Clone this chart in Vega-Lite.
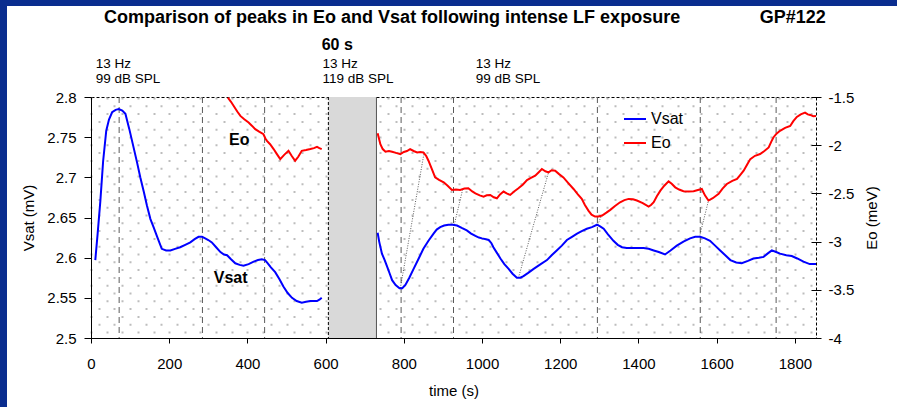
{
  "$schema": "https://vega.github.io/schema/vega-lite/v6.json",
  "width": 725,
  "height": 241,
  "autosize": "none",
  "padding": {"left": 91, "right": 81, "top": 97, "bottom": 69},
  "background": "white",
  "config": {
    "font": "Liberation Sans",
    "view": {"stroke": "#000", "strokeDash": [3, 2], "strokeWidth": 1, "fill": "white"},
    "axis": {
      "labelFont": "Liberation Sans", "labelFontSize": 15, "labelColor": "#000",
      "titleFont": "Liberation Sans", "titleFontSize": 15, "titleFontWeight": "normal", "titleColor": "#000",
      "tickColor": "#000", "domainColor": "#000", "grid": false
    },
    "legend": {
      "orient": "none", "legendX": 532, "legendY": 10, "padding": 0,
      "labelFont": "Liberation Sans", "labelFontSize": 16, "labelColor": "#000",
      "symbolType": "stroke", "symbolSize": 484, "symbolStrokeWidth": 2,
      "labelOffset": 4, "rowPadding": 4
    }
  },
  "datasets": {
    "vsat": [
      {"t": 11, "v": 2.597, "s": 1}, {"t": 17, "v": 2.63, "s": 1}, {"t": 24, "v": 2.671, "s": 1}, {"t": 31, "v": 2.72, "s": 1},
      {"t": 39, "v": 2.758, "s": 1}, {"t": 46, "v": 2.772, "s": 1}, {"t": 54, "v": 2.781, "s": 1}, {"t": 63, "v": 2.784, "s": 1},
      {"t": 71, "v": 2.785, "s": 1}, {"t": 80, "v": 2.783, "s": 1}, {"t": 88, "v": 2.779, "s": 1}, {"t": 98, "v": 2.76, "s": 1},
      {"t": 109, "v": 2.737, "s": 1}, {"t": 118, "v": 2.718, "s": 1}, {"t": 126, "v": 2.7, "s": 1}, {"t": 135, "v": 2.682, "s": 1},
      {"t": 143, "v": 2.665, "s": 1}, {"t": 152, "v": 2.648, "s": 1}, {"t": 160, "v": 2.638, "s": 1}, {"t": 170, "v": 2.625, "s": 1},
      {"t": 181, "v": 2.611, "s": 1}, {"t": 192, "v": 2.609, "s": 1}, {"t": 203, "v": 2.609, "s": 1}, {"t": 215, "v": 2.611, "s": 1},
      {"t": 228, "v": 2.613, "s": 1}, {"t": 241, "v": 2.616, "s": 1}, {"t": 254, "v": 2.619, "s": 1}, {"t": 265, "v": 2.623, "s": 1},
      {"t": 275, "v": 2.626, "s": 1}, {"t": 284, "v": 2.626, "s": 1}, {"t": 292, "v": 2.624, "s": 1}, {"t": 300, "v": 2.622, "s": 1},
      {"t": 309, "v": 2.619, "s": 1}, {"t": 320, "v": 2.613, "s": 1}, {"t": 331, "v": 2.607, "s": 1}, {"t": 340, "v": 2.604, "s": 1},
      {"t": 348, "v": 2.603, "s": 1}, {"t": 358, "v": 2.598, "s": 1}, {"t": 369, "v": 2.593, "s": 1}, {"t": 380, "v": 2.591, "s": 1},
      {"t": 390, "v": 2.59, "s": 1}, {"t": 403, "v": 2.592, "s": 1}, {"t": 416, "v": 2.595, "s": 1}, {"t": 427, "v": 2.597, "s": 1},
      {"t": 437, "v": 2.598, "s": 1}, {"t": 445, "v": 2.597, "s": 1}, {"t": 450, "v": 2.594, "s": 1}, {"t": 460, "v": 2.588, "s": 1},
      {"t": 471, "v": 2.582, "s": 1}, {"t": 482, "v": 2.573, "s": 1}, {"t": 492, "v": 2.564, "s": 1}, {"t": 503, "v": 2.556, "s": 1},
      {"t": 514, "v": 2.55, "s": 1}, {"t": 526, "v": 2.546, "s": 1}, {"t": 539, "v": 2.544, "s": 1}, {"t": 550, "v": 2.545, "s": 1},
      {"t": 561, "v": 2.546, "s": 1}, {"t": 570, "v": 2.546, "s": 1}, {"t": 578, "v": 2.546, "s": 1}, {"t": 585, "v": 2.548, "s": 1},
      {"t": 590, "v": 2.55, "s": 1},
      {"t": 733, "v": 2.631, "s": 2}, {"t": 737, "v": 2.62, "s": 2}, {"t": 744, "v": 2.605, "s": 2}, {"t": 751, "v": 2.597, "s": 2},
      {"t": 758, "v": 2.588, "s": 2}, {"t": 764, "v": 2.58, "s": 2}, {"t": 770, "v": 2.572, "s": 2}, {"t": 779, "v": 2.566, "s": 2},
      {"t": 789, "v": 2.562, "s": 2}, {"t": 796, "v": 2.562, "s": 2}, {"t": 804, "v": 2.566, "s": 2}, {"t": 814, "v": 2.575, "s": 2},
      {"t": 825, "v": 2.586, "s": 2}, {"t": 838, "v": 2.599, "s": 2}, {"t": 850, "v": 2.611, "s": 2}, {"t": 863, "v": 2.621, "s": 2},
      {"t": 876, "v": 2.63, "s": 2}, {"t": 884, "v": 2.635, "s": 2}, {"t": 893, "v": 2.638, "s": 2}, {"t": 903, "v": 2.64, "s": 2},
      {"t": 914, "v": 2.641, "s": 2}, {"t": 925, "v": 2.641, "s": 2}, {"t": 936, "v": 2.64, "s": 2}, {"t": 948, "v": 2.637, "s": 2},
      {"t": 961, "v": 2.634, "s": 2}, {"t": 972, "v": 2.63, "s": 2}, {"t": 983, "v": 2.627, "s": 2}, {"t": 992, "v": 2.625, "s": 2},
      {"t": 1000, "v": 2.624, "s": 2}, {"t": 1010, "v": 2.623, "s": 2}, {"t": 1017, "v": 2.622, "s": 2}, {"t": 1024, "v": 2.618, "s": 2},
      {"t": 1029, "v": 2.613, "s": 2}, {"t": 1038, "v": 2.606, "s": 2}, {"t": 1047, "v": 2.599, "s": 2}, {"t": 1057, "v": 2.592, "s": 2},
      {"t": 1068, "v": 2.586, "s": 2}, {"t": 1078, "v": 2.58, "s": 2}, {"t": 1089, "v": 2.575, "s": 2}, {"t": 1098, "v": 2.575, "s": 2},
      {"t": 1106, "v": 2.577, "s": 2}, {"t": 1118, "v": 2.581, "s": 2}, {"t": 1132, "v": 2.586, "s": 2}, {"t": 1150, "v": 2.592, "s": 2},
      {"t": 1166, "v": 2.597, "s": 2}, {"t": 1178, "v": 2.603, "s": 2}, {"t": 1191, "v": 2.609, "s": 2}, {"t": 1204, "v": 2.615, "s": 2},
      {"t": 1217, "v": 2.622, "s": 2}, {"t": 1230, "v": 2.626, "s": 2}, {"t": 1243, "v": 2.63, "s": 2}, {"t": 1255, "v": 2.633, "s": 2},
      {"t": 1268, "v": 2.636, "s": 2}, {"t": 1281, "v": 2.638, "s": 2}, {"t": 1294, "v": 2.641, "s": 2}, {"t": 1302, "v": 2.639, "s": 2},
      {"t": 1311, "v": 2.636, "s": 2}, {"t": 1322, "v": 2.629, "s": 2}, {"t": 1336, "v": 2.621, "s": 2}, {"t": 1347, "v": 2.616, "s": 2},
      {"t": 1358, "v": 2.613, "s": 2}, {"t": 1370, "v": 2.612, "s": 2}, {"t": 1390, "v": 2.612, "s": 2}, {"t": 1413, "v": 2.612, "s": 2},
      {"t": 1426, "v": 2.611, "s": 2}, {"t": 1439, "v": 2.609, "s": 2}, {"t": 1452, "v": 2.607, "s": 2}, {"t": 1468, "v": 2.604, "s": 2},
      {"t": 1482, "v": 2.609, "s": 2}, {"t": 1498, "v": 2.615, "s": 2}, {"t": 1515, "v": 2.62, "s": 2}, {"t": 1532, "v": 2.624, "s": 2},
      {"t": 1545, "v": 2.626, "s": 2}, {"t": 1558, "v": 2.626, "s": 2}, {"t": 1570, "v": 2.624, "s": 2}, {"t": 1583, "v": 2.621, "s": 2},
      {"t": 1596, "v": 2.615, "s": 2}, {"t": 1609, "v": 2.609, "s": 2}, {"t": 1622, "v": 2.603, "s": 2}, {"t": 1635, "v": 2.597, "s": 2},
      {"t": 1650, "v": 2.594, "s": 2}, {"t": 1664, "v": 2.593, "s": 2}, {"t": 1680, "v": 2.596, "s": 2}, {"t": 1694, "v": 2.599, "s": 2},
      {"t": 1708, "v": 2.6, "s": 2}, {"t": 1720, "v": 2.601, "s": 2}, {"t": 1730, "v": 2.605, "s": 2}, {"t": 1741, "v": 2.609, "s": 2},
      {"t": 1752, "v": 2.607, "s": 2}, {"t": 1762, "v": 2.605, "s": 2}, {"t": 1778, "v": 2.603, "s": 2}, {"t": 1792, "v": 2.602, "s": 2},
      {"t": 1806, "v": 2.599, "s": 2}, {"t": 1822, "v": 2.595, "s": 2}, {"t": 1838, "v": 2.592, "s": 2}, {"t": 1854, "v": 2.592, "s": 2}
    ],
    "eo": [
      {"t": 350, "e": -1.507, "s": 1}, {"t": 358, "e": -1.55, "s": 1}, {"t": 365, "e": -1.593, "s": 1}, {"t": 374, "e": -1.65, "s": 1},
      {"t": 382, "e": -1.696, "s": 1}, {"t": 392, "e": -1.73, "s": 1}, {"t": 403, "e": -1.765, "s": 1}, {"t": 412, "e": -1.8, "s": 1},
      {"t": 420, "e": -1.834, "s": 1}, {"t": 430, "e": -1.86, "s": 1}, {"t": 441, "e": -1.886, "s": 1}, {"t": 446, "e": -1.93, "s": 1},
      {"t": 450, "e": -1.955, "s": 1}, {"t": 458, "e": -1.99, "s": 1}, {"t": 467, "e": -2.04, "s": 1}, {"t": 475, "e": -2.09, "s": 1},
      {"t": 484, "e": -2.144, "s": 1}, {"t": 494, "e": -2.1, "s": 1}, {"t": 505, "e": -2.058, "s": 1}, {"t": 513, "e": -2.11, "s": 1},
      {"t": 522, "e": -2.161, "s": 1}, {"t": 530, "e": -2.12, "s": 1}, {"t": 539, "e": -2.058, "s": 1}, {"t": 550, "e": -2.05, "s": 1},
      {"t": 561, "e": -2.04, "s": 1}, {"t": 570, "e": -2.03, "s": 1}, {"t": 578, "e": -2.017, "s": 1}, {"t": 584, "e": -2.03, "s": 1},
      {"t": 590, "e": -2.04, "s": 1},
      {"t": 733, "e": -1.875, "s": 2}, {"t": 737, "e": -1.94, "s": 2}, {"t": 740, "e": -1.989, "s": 2}, {"t": 746, "e": -2.04, "s": 2},
      {"t": 753, "e": -2.068, "s": 2}, {"t": 762, "e": -2.06, "s": 2}, {"t": 770, "e": -2.068, "s": 2}, {"t": 780, "e": -2.08, "s": 2},
      {"t": 791, "e": -2.092, "s": 2}, {"t": 800, "e": -2.07, "s": 2}, {"t": 808, "e": -2.06, "s": 2}, {"t": 816, "e": -2.04, "s": 2},
      {"t": 825, "e": -2.06, "s": 2}, {"t": 834, "e": -2.075, "s": 2}, {"t": 842, "e": -2.07, "s": 2}, {"t": 850, "e": -2.075, "s": 2},
      {"t": 857, "e": -2.11, "s": 2}, {"t": 863, "e": -2.161, "s": 2}, {"t": 872, "e": -2.25, "s": 2}, {"t": 880, "e": -2.334, "s": 2},
      {"t": 890, "e": -2.36, "s": 2}, {"t": 902, "e": -2.385, "s": 2}, {"t": 912, "e": -2.42, "s": 2}, {"t": 923, "e": -2.464, "s": 2},
      {"t": 933, "e": -2.46, "s": 2}, {"t": 944, "e": -2.464, "s": 2}, {"t": 955, "e": -2.45, "s": 2}, {"t": 965, "e": -2.447, "s": 2},
      {"t": 975, "e": -2.48, "s": 2}, {"t": 983, "e": -2.499, "s": 2}, {"t": 994, "e": -2.52, "s": 2}, {"t": 1004, "e": -2.533, "s": 2},
      {"t": 1012, "e": -2.52, "s": 2}, {"t": 1021, "e": -2.516, "s": 2}, {"t": 1030, "e": -2.54, "s": 2}, {"t": 1038, "e": -2.551, "s": 2},
      {"t": 1046, "e": -2.51, "s": 2}, {"t": 1055, "e": -2.481, "s": 2}, {"t": 1063, "e": -2.5, "s": 2}, {"t": 1072, "e": -2.516, "s": 2},
      {"t": 1082, "e": -2.48, "s": 2}, {"t": 1093, "e": -2.447, "s": 2}, {"t": 1104, "e": -2.41, "s": 2}, {"t": 1115, "e": -2.361, "s": 2},
      {"t": 1125, "e": -2.34, "s": 2}, {"t": 1136, "e": -2.316, "s": 2}, {"t": 1145, "e": -2.28, "s": 2}, {"t": 1153, "e": -2.247, "s": 2},
      {"t": 1162, "e": -2.27, "s": 2}, {"t": 1170, "e": -2.282, "s": 2}, {"t": 1178, "e": -2.26, "s": 2}, {"t": 1187, "e": -2.264, "s": 2},
      {"t": 1197, "e": -2.3, "s": 2}, {"t": 1208, "e": -2.334, "s": 2}, {"t": 1220, "e": -2.39, "s": 2}, {"t": 1234, "e": -2.454, "s": 2},
      {"t": 1245, "e": -2.51, "s": 2}, {"t": 1255, "e": -2.557, "s": 2}, {"t": 1263, "e": -2.62, "s": 2}, {"t": 1272, "e": -2.678, "s": 2},
      {"t": 1280, "e": -2.72, "s": 2}, {"t": 1289, "e": -2.74, "s": 2}, {"t": 1298, "e": -2.74, "s": 2}, {"t": 1307, "e": -2.73, "s": 2},
      {"t": 1318, "e": -2.7, "s": 2}, {"t": 1328, "e": -2.671, "s": 2}, {"t": 1340, "e": -2.63, "s": 2}, {"t": 1353, "e": -2.592, "s": 2},
      {"t": 1364, "e": -2.57, "s": 2}, {"t": 1375, "e": -2.557, "s": 2}, {"t": 1386, "e": -2.56, "s": 2}, {"t": 1396, "e": -2.574, "s": 2},
      {"t": 1411, "e": -2.6, "s": 2}, {"t": 1426, "e": -2.636, "s": 2}, {"t": 1432, "e": -2.62, "s": 2}, {"t": 1439, "e": -2.592, "s": 2},
      {"t": 1447, "e": -2.53, "s": 2}, {"t": 1456, "e": -2.471, "s": 2}, {"t": 1466, "e": -2.42, "s": 2}, {"t": 1477, "e": -2.375, "s": 2},
      {"t": 1485, "e": -2.4, "s": 2}, {"t": 1494, "e": -2.437, "s": 2}, {"t": 1504, "e": -2.46, "s": 2}, {"t": 1515, "e": -2.478, "s": 2},
      {"t": 1528, "e": -2.48, "s": 2}, {"t": 1541, "e": -2.478, "s": 2}, {"t": 1552, "e": -2.465, "s": 2}, {"t": 1562, "e": -2.454, "s": 2},
      {"t": 1570, "e": -2.52, "s": 2}, {"t": 1579, "e": -2.574, "s": 2}, {"t": 1590, "e": -2.55, "s": 2}, {"t": 1605, "e": -2.505, "s": 2},
      {"t": 1615, "e": -2.45, "s": 2}, {"t": 1626, "e": -2.402, "s": 2}, {"t": 1640, "e": -2.37, "s": 2}, {"t": 1652, "e": -2.35, "s": 2},
      {"t": 1660, "e": -2.31, "s": 2}, {"t": 1669, "e": -2.265, "s": 2}, {"t": 1678, "e": -2.2, "s": 2}, {"t": 1686, "e": -2.144, "s": 2},
      {"t": 1698, "e": -2.11, "s": 2}, {"t": 1711, "e": -2.092, "s": 2}, {"t": 1722, "e": -2.06, "s": 2}, {"t": 1733, "e": -2.023, "s": 2},
      {"t": 1740, "e": -1.96, "s": 2}, {"t": 1745, "e": -1.92, "s": 2}, {"t": 1753, "e": -1.88, "s": 2}, {"t": 1762, "e": -1.851, "s": 2},
      {"t": 1775, "e": -1.82, "s": 2}, {"t": 1788, "e": -1.8, "s": 2}, {"t": 1796, "e": -1.75, "s": 2}, {"t": 1805, "e": -1.707, "s": 2},
      {"t": 1815, "e": -1.68, "s": 2}, {"t": 1826, "e": -1.662, "s": 2}, {"t": 1833, "e": -1.68, "s": 2}, {"t": 1839, "e": -1.686, "s": 2},
      {"t": 1847, "e": -1.7, "s": 2}, {"t": 1854, "e": -1.696, "s": 2}
    ],
    "markers": [
      {"t": 72}, {"t": 285}, {"t": 444}, {"t": 793}, {"t": 927}, {"t": 1295}, {"t": 1558}, {"t": 1752}
    ],
    "exposure": [{"start": 607, "end": 730}],
    "links": [
      {"t1": 791, "v1": 2.562, "t2": 852, "v2": 2.731},
      {"t1": 929, "v1": 2.641, "t2": 950, "v2": 2.684},
      {"t1": 1093, "v1": 2.575, "t2": 1170, "v2": 2.706},
      {"t1": 1296, "v1": 2.641, "t2": 1306, "v2": 2.653},
      {"t1": 1556, "v1": 2.626, "t2": 1579, "v2": 2.671}
    ],
    "one": [{}]
  },
  "layer": [
    {
      "data": {"name": "exposure"},
      "mark": {"type": "rect", "fill": "#d9d9d9"},
      "encoding": {
        "x": {
          "field": "start", "type": "quantitative",
          "scale": {"domain": [0, 1854], "nice": false},
          "axis": {
            "orient": "top", "title": null, "labels": false, "ticks": false, "domain": false,
            "tickCount": 93, "grid": true, "gridColor": "#bdbdbd", "gridWidth": 2, "gridDash": [2, 13.6],
            "gridDashOffset": {"condition": {"test": "datum.value % 40 === 0", "value": 0}, "value": 7.8}
          }
        },
        "x2": {"field": "end"}
      }
    },
    {
      "data": {"name": "markers"},
      "mark": {"type": "rule", "stroke": "#5a5a5a", "strokeWidth": 1, "strokeDash": [6, 4]},
      "encoding": {"x": {"field": "t", "type": "quantitative", "axis": null}}
    },
    {
      "data": {"name": "exposure"},
      "mark": {"type": "rule", "stroke": "#000", "strokeWidth": 1, "strokeDash": [3, 2]},
      "encoding": {"x": {"field": "start", "type": "quantitative", "axis": null}}
    },
    {
      "data": {"name": "exposure"},
      "mark": {"type": "rule", "stroke": "#555", "strokeWidth": 1},
      "encoding": {"x": {"field": "end", "type": "quantitative", "axis": null}}
    },
    {
      "data": {"name": "links"},
      "mark": {"type": "rule", "stroke": "#333", "strokeWidth": 0.8, "strokeDash": [1, 1.5]},
      "encoding": {
        "x": {"field": "t1", "type": "quantitative", "axis": null},
        "x2": {"field": "t2"},
        "y": {"field": "v1", "type": "quantitative", "scale": {"domain": [2.5, 2.8], "nice": false, "zero": false}, "axis": null},
        "y2": {"field": "v2"}
      }
    },
    {
      "data": {"name": "vsat"},
      "mark": {"type": "line", "strokeWidth": 2},
      "encoding": {
        "x": {
          "field": "t", "type": "quantitative",
          "scale": {"domain": [0, 1854], "nice": false},
          "axis": {
            "orient": "bottom", "title": "time (s)", "format": "d",
            "values": [0, 200, 400, 600, 800, 1000, 1200, 1400, 1600, 1800],
            "tickSize": 5, "labelPadding": 13, "titlePadding": 12, "labelFlush": false
          }
        },
        "y": {
          "field": "v", "type": "quantitative",
          "scale": {"domain": [2.5, 2.8], "nice": false, "zero": false},
          "axis": {
            "orient": "left", "title": "Vsat (mV)", "values": [2.5, 2.55, 2.6, 2.65, 2.7, 2.75, 2.8],
            "labelExpr": "'' + datum.value", "tickSize": 7, "labelPadding": 8, "titlePadding": 10
          }
        },
        "detail": {"field": "s"},
        "color": {
          "datum": "Vsat",
          "scale": {"domain": ["Vsat", "Eo"], "range": ["#0000ff", "#ff0000"]},
          "legend": {"title": null}
        }
      }
    },
    {
      "data": {"name": "eo"},
      "mark": {"type": "line", "strokeWidth": 2},
      "encoding": {
        "x": {"field": "t", "type": "quantitative", "axis": null},
        "y": {
          "field": "e", "type": "quantitative",
          "scale": {"domain": [-4, -1.5], "nice": false, "zero": false},
          "axis": {
            "orient": "right", "title": "Eo (meV)", "values": [-4, -3.5, -3, -2.5, -2, -1.5],
            "labelExpr": "'' + datum.value", "domain": false, "offset": -5, "tickSize": 10,
            "labelPadding": 7, "titlePadding": 11, "titleAngle": 270, "titleBaseline": "top"
          }
        },
        "detail": {"field": "s"},
        "color": {"datum": "Eo"}
      }
    },
    {
      "data": {"name": "one"},
      "mark": {"type": "text", "text": "Comparison of peaks in Eo and Vsat following intense LF exposure", "fontSize": 18, "fontWeight": "bold", "align": "center", "baseline": "alphabetic", "color": "#000"},
      "encoding": {
        "x": {"datum": 770, "axis": null},
        "y": {"datum": 2.8925, "scale": {"domain": [2.5, 2.8], "nice": false, "zero": false}, "axis": null}
      }
    },
    {
      "data": {"name": "one"},
      "mark": {"type": "text", "text": "GP#122", "fontSize": 18, "fontWeight": "bold", "align": "left", "baseline": "alphabetic", "color": "#000"},
      "encoding": {
        "x": {"datum": 1710, "axis": null},
        "y": {"datum": 2.8925, "scale": {"domain": [2.5, 2.8], "nice": false, "zero": false}, "axis": null}
      }
    },
    {
      "data": {"name": "one"},
      "mark": {"type": "text", "text": "60 s", "fontSize": 16, "fontWeight": "bold", "align": "left", "baseline": "alphabetic", "color": "#000"},
      "encoding": {
        "x": {"datum": 590, "axis": null},
        "y": {"datum": 2.8585, "scale": {"domain": [2.5, 2.8], "nice": false, "zero": false}, "axis": null}
      }
    },
    {
      "data": {"name": "one"},
      "mark": {"type": "text", "text": ["13 Hz", "99 dB SPL"], "fontSize": 13.5, "lineHeight": 15, "align": "left", "baseline": "alphabetic", "color": "#000"},
      "encoding": {
        "x": {"datum": 12, "axis": null},
        "y": {"datum": 2.8357, "scale": {"domain": [2.5, 2.8], "nice": false, "zero": false}, "axis": null}
      }
    },
    {
      "data": {"name": "one"},
      "mark": {"type": "text", "text": ["13 Hz", "119 dB SPL"], "fontSize": 13.5, "lineHeight": 15, "align": "left", "baseline": "alphabetic", "color": "#000"},
      "encoding": {
        "x": {"datum": 592, "axis": null},
        "y": {"datum": 2.8357, "scale": {"domain": [2.5, 2.8], "nice": false, "zero": false}, "axis": null}
      }
    },
    {
      "data": {"name": "one"},
      "mark": {"type": "text", "text": ["13 Hz", "99 dB SPL"], "fontSize": 13.5, "lineHeight": 15, "align": "left", "baseline": "alphabetic", "color": "#000"},
      "encoding": {
        "x": {"datum": 984, "axis": null},
        "y": {"datum": 2.8357, "scale": {"domain": [2.5, 2.8], "nice": false, "zero": false}, "axis": null}
      }
    },
    {
      "data": {"name": "one"},
      "mark": {"type": "text", "text": "Eo", "fontSize": 16, "fontWeight": "bold", "align": "center", "baseline": "alphabetic", "color": "#000"},
      "encoding": {
        "x": {"datum": 379, "axis": null},
        "y": {"datum": 2.74, "scale": {"domain": [2.5, 2.8], "nice": false, "zero": false}, "axis": null}
      }
    },
    {
      "data": {"name": "one"},
      "mark": {"type": "text", "text": "Vsat", "fontSize": 16, "fontWeight": "bold", "align": "center", "baseline": "alphabetic", "color": "#000"},
      "encoding": {
        "x": {"datum": 357, "axis": null},
        "y": {"datum": 2.568, "scale": {"domain": [2.5, 2.8], "nice": false, "zero": false}, "axis": null}
      }
    },
    {
      "data": {"name": "one"},
      "mark": {"type": "rect", "fill": "#0a2d8f"},
      "encoding": {
        "x": {"datum": -240, "axis": null}, "x2": {"datum": -214.8},
        "y": {"datum": 2.40, "scale": {"domain": [2.5, 2.8], "nice": false, "zero": false}, "axis": null}, "y2": {"datum": 2.93}
      }
    },
    {
      "data": {"name": "one"},
      "mark": {"type": "rect", "fill": "#0a2d8f"},
      "encoding": {
        "x": {"datum": -240, "axis": null}, "x2": {"datum": 2100},
        "y": {"datum": 2.9133, "scale": {"domain": [2.5, 2.8], "nice": false, "zero": false}, "axis": null}, "y2": {"datum": 2.93}
      }
    }
  ],
  "resolve": {"scale": {"y": "independent"}, "axis": {"x": "independent"}}
}
